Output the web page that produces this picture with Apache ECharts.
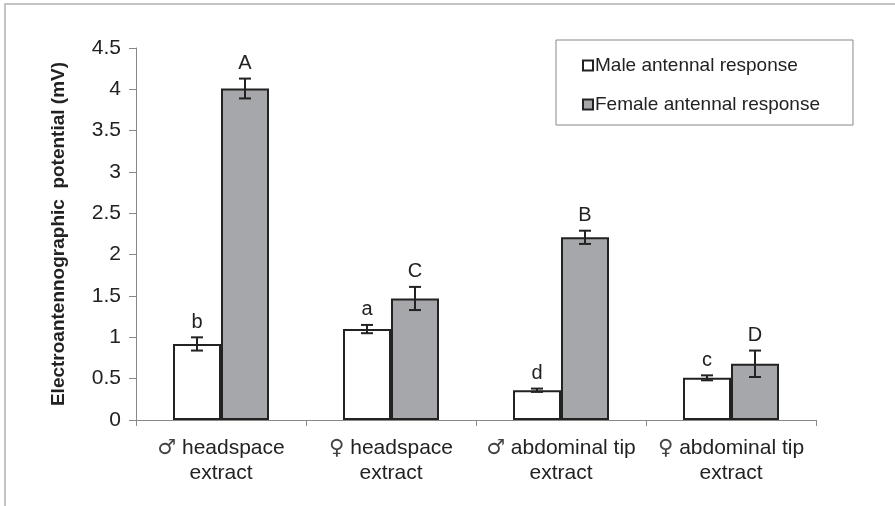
<!DOCTYPE html>
<html><head><meta charset="utf-8">
<script src="https://cdn.jsdelivr.net/npm/echarts@6/dist/echarts.min.js"></script>
<style>html,body{margin:0;padding:0;background:#fff}#c{width:895px;height:506px}</style>
</head><body><div id="c"></div>
<script>
var categories = ['\u2642 headspace\nextract', '\u2640 headspace\nextract', '\u2642 abdominal tip\nextract', '\u2640 abdominal tip\nextract'];
var maleValues = [0.92, 1.10, 0.36, 0.51];
var maleErr = [0.08, 0.05, 0.02, 0.03];
var maleLetters = ['b', 'a', 'd', 'c'];
var femaleValues = [4.01, 1.47, 2.21, 0.68];
var femaleErr = [0.12, 0.14, 0.08, 0.16];
var femaleLetters = ['A', 'C', 'B', 'D'];
var yTicks = [0, 0.5, 1, 1.5, 2, 2.5, 3, 3.5, 4, 4.5];

var FONT = 'Liberation Sans, Arial, sans-serif';
var BAR_W = 48;
var chart = echarts.init(document.getElementById('c'));

function errSeries(vals, errs, letters, side) {
  var data = vals.map(function (v, i) { return [i, v, errs[i], letters[i]]; });
  return {
    type: 'custom',
    z: 10,
    data: data,
    encode: { x: 0, y: 1 },
    renderItem: function (params, api) {
      var i = api.value(0), v = api.value(1), e = api.value(2);
      var c = api.coord([i, v]);
      var x = c[0] + side * BAR_W / 2;
      var top = api.coord([i, v + e])[1];
      var bot = api.coord([i, v - e])[1];
      var cap = 6;
      var st = { stroke: '#222', lineWidth: 2 };
      return {
        type: 'group',
        children: [
          { type: 'line', shape: { x1: x, y1: top, x2: x, y2: bot }, style: st },
          { type: 'line', shape: { x1: x - cap, y1: top, x2: x + cap, y2: top }, style: st },
          { type: 'line', shape: { x1: x - cap, y1: bot, x2: x + cap, y2: bot }, style: st },
          { type: 'text', style: { text: letters[params.dataIndex], x: x, y: top - 5, align: 'center', verticalAlign: 'bottom', font: '20px ' + FONT, fill: '#222' } }
        ]
      };
    }
  };
}

chart.setOption({
  animation: false,
  graphic: [
    { type: 'polyline', shape: { points: [[5, 506], [5, 4], [895, 4]] }, style: { stroke: '#c4c4c4', lineWidth: 2, fill: null } }
  ],
  legend: {
    orient: 'vertical',
    left: 556, top: 40,
    padding: [16, 33, 11, 26],
    borderColor: '#888', borderWidth: 1,
    icon: 'rect',
    itemWidth: 10, itemHeight: 10, itemGap: 20,
    textStyle: { fontFamily: FONT, fontSize: 19, color: '#222', padding: [0, 0, 0, -3] },
    data: [
      { name: 'Male antennal response', itemStyle: { color: '#fff', borderColor: '#222', borderWidth: 2 } },
      { name: 'Female antennal response', itemStyle: { color: '#a6a7aa', borderColor: '#222', borderWidth: 2 } }
    ]
  },
  grid: { left: 136, right: 79, top: 48, bottom: 86 },
  xAxis: {
    type: 'category',
    data: categories,
    axisLine: { lineStyle: { color: '#888', width: 1 } },
    axisTick: { show: true, length: 6, lineStyle: { color: '#888' } },
    axisLabel: {
      interval: 0,
      fontFamily: FONT, fontSize: 21, color: '#222', lineHeight: 25, margin: 16,
      formatter: function (v) {
        var lines = v.split('\n');
        var first = lines[0];
        return '{s|' + first.charAt(0) + '}{t|' + first.slice(1) + '}\n{t|' + lines[1] + '}';
      },
      rich: {
        s: { fontFamily: 'DejaVu Sans', fontSize: 21, color: '#444', lineHeight: 25 },
        t: { fontFamily: FONT, fontSize: 21, color: '#222', lineHeight: 25 }
      }
    }
  },
  yAxis: {
    type: 'value',
    min: 0, max: 4.5, interval: 0.5,
    name: 'Electroantennographic  potential (mV)',
    nameLocation: 'middle', nameGap: 68, nameRotate: 90,
    nameTextStyle: { fontFamily: FONT, fontSize: 19, fontWeight: 'bold', color: '#222' },
    axisLine: { show: true, lineStyle: { color: '#888' } },
    axisTick: { show: true, length: 7, lineStyle: { color: '#888' } },
    splitLine: { show: false },
    axisLabel: {
      fontFamily: FONT, fontSize: 21, color: '#222', margin: 15,
      formatter: function (v) { return yTicks.indexOf(v) >= 0 ? String(v) : ''; }
    }
  },
  series: [
    { name: 'Male antennal response', type: 'bar', data: maleValues, barWidth: BAR_W, barGap: '0%',
      itemStyle: { color: '#fff', borderColor: '#222', borderWidth: 2 } },
    { name: 'Female antennal response', type: 'bar', data: femaleValues, barWidth: BAR_W, barGap: '0%',
      itemStyle: { color: '#a6a7aa', borderColor: '#222', borderWidth: 2 } },
    errSeries(maleValues, maleErr, maleLetters, -1),
    errSeries(femaleValues, femaleErr, femaleLetters, 1)
  ]
});
</script></body></html>
